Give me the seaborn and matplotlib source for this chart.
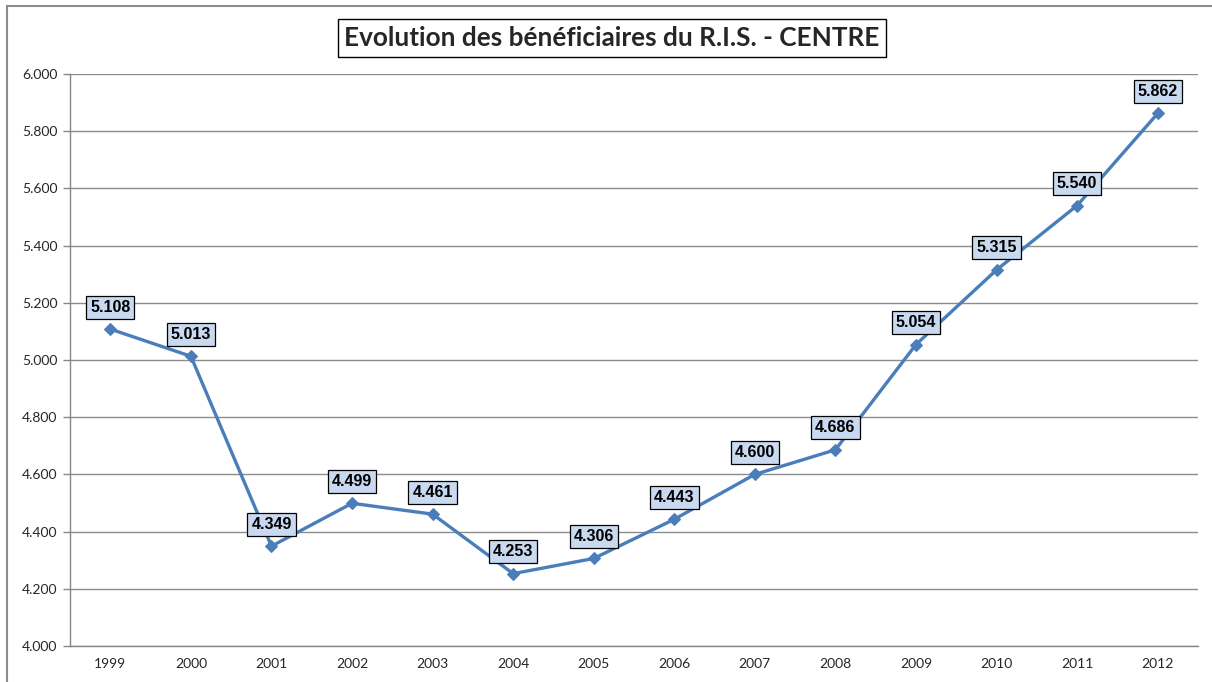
import matplotlib
matplotlib.use("Agg")
import matplotlib.pyplot as plt
import seaborn as sns
import pandas as pd
from matplotlib.patches import Rectangle

years = ["1999", "2000", "2001", "2002", "2003", "2004", "2005",
         "2006", "2007", "2008", "2009", "2010", "2011", "2012"]
beneficiaires = [5108, 5013, 4349, 4499, 4461, 4253, 4306,
                 4443, 4600, 4686, 5054, 5315, 5540, 5862]
yticks = [4000, 4200, 4400, 4600, 4800, 5000, 5200, 5400, 5600, 5800, 6000]

df = pd.DataFrame({"idx": range(len(years)), "annee": years, "val": beneficiaires})

def fr(v):
    return f"{v:,}".replace(",", ".")

sns.set_style("white")
plt.rcParams["font.family"] = ["Lato", "DejaVu Sans"]

fig = plt.figure(figsize=(12.12, 6.82), dpi=100)
ax = fig.add_axes([0.0578, 0.0528, 0.9306, 0.8387])

# chart frame
fig.patches.append(Rectangle((7 / 1212, -0.01), 1.02, 1 - 6 / 682 + 0.01,
                             transform=fig.transFigure, fill=False,
                             edgecolor="#8c8c8c", linewidth=1.5))

sns.lineplot(data=df, x="idx", y="val", ax=ax, color="#4a7ebb", linewidth=2.4,
             marker="D", markersize=6.5, markeredgecolor="#4a7ebb", zorder=3)

for i, v in enumerate(beneficiaires):
    ax.annotate(fr(v), (i, v), xytext=(0, 22), textcoords="offset pixels",
                ha="center", va="center", fontsize=11.5, fontweight="bold",
                family=["Liberation Sans"], color="black", zorder=5,
                bbox=dict(boxstyle="square,pad=0.25", fc="#c9d9f0", ec="black", lw=0.9))

ax.set_xlim(-0.5, len(years) - 0.5)
ax.set_ylim(4000, 6000)
ax.set_yticks(yticks)
ax.set_yticklabels([fr(t) for t in yticks], fontsize=10)
ax.set_xticks(range(len(years)))
ax.set_xticklabels(years, fontsize=10)
ax.set_xticks([k + 0.5 for k in range(-1, len(years))], minor=True)
ax.tick_params(axis="x", which="major", length=0, pad=9)
ax.tick_params(axis="x", which="minor", length=5, color="#868686", width=1)
ax.tick_params(axis="y", length=5, color="#868686", width=1, pad=4, left=True)
ax.set_xlabel("")
ax.set_ylabel("")
ax.yaxis.grid(True, color="#8c8c8c", linewidth=1)
ax.set_axisbelow(True)
for s in ["top", "right"]:
    ax.spines[s].set_visible(False)
for s in ["left", "bottom"]:
    ax.spines[s].set_color("#868686")
    ax.spines[s].set_linewidth(1)

fig.text(0.505, 1 - 38 / 682, "Evolution des bénéficiaires du R.I.S. - CENTRE",
         ha="center", va="center", fontsize=18.8, fontweight="bold",
         bbox=dict(boxstyle="square,pad=0.25", fc="white", ec="black", lw=1))

fig.savefig("out.png", dpi=100)
